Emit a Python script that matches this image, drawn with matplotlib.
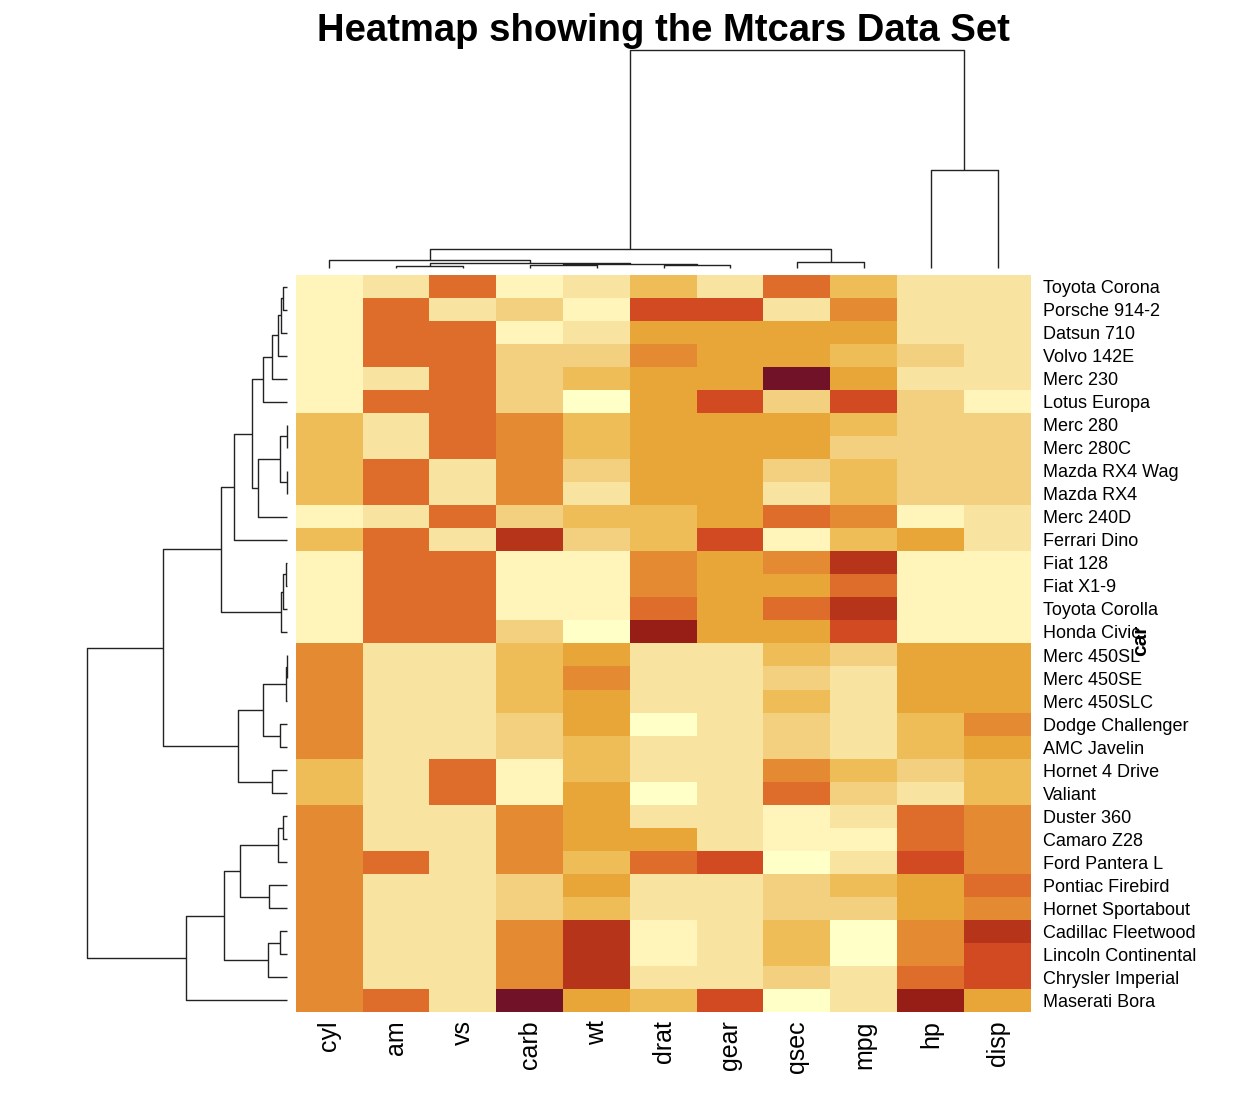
import matplotlib
matplotlib.use("Agg")
import matplotlib.pyplot as plt
from matplotlib.colors import ListedColormap, BoundaryNorm
import numpy as np

plt.rcParams['font.family'] = ['Liberation Sans', 'DejaVu Sans']

title = "Heatmap showing the Mtcars Data Set"
ylab = "car"

columns = ["cyl", "am", "vs", "carb", "wt", "drat", "gear", "qsec", "mpg", "hp", "disp"]
cars = ["Toyota Corona", "Porsche 914-2", "Datsun 710", "Volvo 142E", "Merc 230",
        "Lotus Europa", "Merc 280", "Merc 280C", "Mazda RX4 Wag", "Mazda RX4",
        "Merc 240D", "Ferrari Dino", "Fiat 128", "Fiat X1-9", "Toyota Corolla",
        "Honda Civic", "Merc 450SL", "Merc 450SE", "Merc 450SLC", "Dodge Challenger",
        "AMC Javelin", "Hornet 4 Drive", "Valiant", "Duster 360", "Camaro Z28",
        "Ford Pantera L", "Pontiac Firebird", "Hornet Sportabout", "Cadillac Fleetwood",
        "Lincoln Continental", "Chrysler Imperial", "Maserati Bora"]

# colour level per cell (0 = palest .. 11 = darkest), rows top->bottom
levels = [
    [1, 2, 7, 1, 2, 4, 2, 7, 4, 2, 2],
    [1, 7, 2, 3, 1, 8, 8, 2, 6, 2, 2],
    [1, 7, 7, 1, 2, 5, 5, 5, 5, 2, 2],
    [1, 7, 7, 3, 3, 6, 5, 5, 4, 3, 2],
    [1, 2, 7, 3, 4, 5, 5, 11, 5, 2, 2],
    [1, 7, 7, 3, 0, 5, 8, 3, 8, 3, 1],
    [4, 2, 7, 6, 4, 5, 5, 5, 4, 3, 3],
    [4, 2, 7, 6, 4, 5, 5, 5, 3, 3, 3],
    [4, 7, 2, 6, 3, 5, 5, 3, 4, 3, 3],
    [4, 7, 2, 6, 2, 5, 5, 2, 4, 3, 3],
    [1, 2, 7, 3, 4, 4, 5, 7, 6, 1, 2],
    [4, 7, 2, 9, 3, 4, 8, 1, 4, 5, 2],
    [1, 7, 7, 1, 1, 6, 5, 6, 9, 1, 1],
    [1, 7, 7, 1, 1, 6, 5, 5, 7, 1, 1],
    [1, 7, 7, 1, 1, 7, 5, 7, 9, 1, 1],
    [1, 7, 7, 3, 0, 10, 5, 5, 8, 1, 1],
    [6, 2, 2, 4, 5, 2, 2, 4, 3, 5, 5],
    [6, 2, 2, 4, 6, 2, 2, 3, 2, 5, 5],
    [6, 2, 2, 4, 5, 2, 2, 4, 2, 5, 5],
    [6, 2, 2, 3, 5, 0, 2, 3, 2, 4, 6],
    [6, 2, 2, 3, 4, 2, 2, 3, 2, 4, 5],
    [4, 2, 7, 1, 4, 2, 2, 6, 4, 3, 4],
    [4, 2, 7, 1, 5, 0, 2, 7, 3, 2, 4],
    [6, 2, 2, 6, 5, 2, 2, 1, 2, 7, 6],
    [6, 2, 2, 6, 5, 5, 2, 1, 1, 7, 6],
    [6, 7, 2, 6, 4, 7, 8, 0, 2, 8, 6],
    [6, 2, 2, 3, 5, 2, 2, 3, 4, 5, 7],
    [6, 2, 2, 3, 4, 2, 2, 3, 3, 5, 6],
    [6, 2, 2, 6, 9, 1, 2, 4, 0, 6, 9],
    [6, 2, 2, 6, 9, 1, 2, 4, 0, 6, 8],
    [6, 2, 2, 6, 9, 2, 2, 3, 2, 7, 8],
    [6, 7, 2, 11, 5, 4, 8, 0, 2, 10, 5],
]

palette = ['#FFFFC8', '#FFF4BA', '#F8E3A0', '#F2D080', '#EEBD57', '#E8A538',
           '#E38A33', '#DE6C2A', '#D14A21', '#B5341A', '#961E16', '#721229']

# dendrogram merges: (child_a, child_b, height); ids >= n refer to earlier merges
row_merges = [
    (0, 1, 4.3), (32, 2, 6.5), (33, 3, 8.7), (34, 4, 15.3), (35, 5, 23.7),
    (6, 7, 0.5), (8, 9, 0.5), (37, 38, 7.0), (39, 10, 29.3), (36, 40, 35.3),
    (41, 11, 52.7), (12, 13, 1.0), (43, 14, 3.7), (44, 15, 6.3), (42, 45, 66.0),
    (16, 17, 0.3), (47, 18, 0.7), (19, 20, 7.0), (48, 49, 24.3), (21, 22, 15.3),
    (50, 51, 48.7), (46, 52, 123.7), (23, 24, 3.7), (54, 25, 8.7), (26, 27, 18.0),
    (55, 56, 47.0), (28, 29, 7.0), (58, 30, 19.3), (57, 59, 63.0), (60, 31, 101.3),
    (53, 61, 199.7),
]
col_merges = [
    (1, 2, 2.3), (3, 4, 3.5), (5, 6, 3.0), (12, 13, 4.3), (11, 14, 5.5),
    (0, 15, 7.7), (7, 8, 6.3), (16, 17, 19.0), (9, 10, 98.0), (18, 19, 218.0),
]

W, H = 1252, 1102
fig = plt.figure(figsize=(W / 100, H / 100), dpi=100)

def fx(px):
    return px / W

def fy(py):
    return 1 - py / H

hm_l, hm_r, hm_t, hm_b = 296, 1031, 275, 1012
ax = fig.add_axes([fx(hm_l), fy(hm_b), fx(hm_r - hm_l), (hm_b - hm_t) / H])
cmap = ListedColormap(palette)
norm = BoundaryNorm(np.arange(-0.5, len(palette) + 0.5, 1), cmap.N)
ax.imshow(np.array(levels), cmap=cmap, norm=norm, aspect='auto', interpolation='nearest')
ax.set_xlim(-0.5, len(columns) - 0.5)
ax.set_ylim(len(cars) - 0.5, -0.5)
for s in ax.spines.values():
    s.set_visible(False)
ax.yaxis.tick_right()
ax.set_yticks(range(len(cars)))
ax.set_yticklabels(cars, fontsize=13)
ax.set_xticks(range(len(columns)))
ax.set_xticklabels(columns, fontsize=18, rotation=90)
ax.tick_params(axis='y', length=0, pad=8.5)
ax.tick_params(axis='x', length=0, pad=6)

def draw_dendro(axd, merges, n, orient):
    pos = {i: float(i) for i in range(n)}
    hgt = {i: 0.0 for i in range(n)}
    for k, (a, b, h) in enumerate(merges):
        pa, pb = pos[a], pos[b]
        xs = [pa, pa, pb, pb]
        ys = [hgt[a], h, h, hgt[b]]
        if orient == 'top':
            axd.plot(xs, ys, color='#222222', lw=1.0, solid_capstyle='butt')
        else:
            axd.plot(ys, xs, color='#222222', lw=1.0, solid_capstyle='butt')
        pos[n + k] = (pa + pb) / 2
        hgt[n + k] = h

# row dendrogram (left)
axr = fig.add_axes([fx(40), fy(hm_b), fx(hm_l - 40), (hm_b - hm_t) / H])
draw_dendro(axr, row_merges, len(cars), 'left')
axr.set_ylim(len(cars) - 0.5, -0.5)
axr.set_xlim(287 - 40, 287 - hm_l)
axr.axis('off')

# column dendrogram (top)
axc = fig.add_axes([fx(hm_l), fy(hm_t), fx(hm_r - hm_l), (hm_t - 40) / H])
draw_dendro(axc, col_merges, len(columns), 'top')
axc.set_xlim(-0.5, len(columns) - 0.5)
axc.set_ylim(268 - hm_t, 268 - 40)
axc.axis('off')

fig.text(fx(663), fy(31), title, ha='center', va='center', fontsize=27.5, fontweight='bold')
fig.text(fx(1141), fy(640), ylab, ha='center', va='center', rotation=90,
         fontsize=15, fontweight='bold')

fig.savefig("out.png", dpi=100, facecolor='white')
